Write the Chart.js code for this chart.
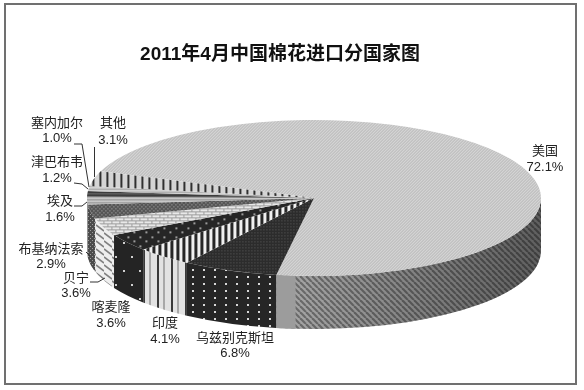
<!DOCTYPE html>
<html>
<head>
<meta charset="utf-8">
<title>2011年4月中国棉花进口分国家图</title>
<script src="https://cdn.jsdelivr.net/npm/chart.js@4"></script>
<style>
    body { margin: 0; background: #fff; }
    canvas { display: block; }
</style>
</head>
<body>
<canvas id="cottonChart" width="584" height="390"></canvas>
<script>
// Chart data
const chartTitle = '2011年4月中国棉花进口分国家图';
const countries = ['美国', '乌兹别克斯坦', '印度', '喀麦隆', '贝宁', '布基纳法索', '埃及', '津巴布韦', '塞内加尔', '其他'];
const shares = [72.1, 6.8, 4.1, 3.6, 3.6, 2.9, 1.6, 1.2, 1.0, 3.1];

// Where the flattened pie sits on the page
const pie = { x: 314, y: 198, rx: 227, ry: 78, depth: 53 };
const startRotation = -70;

// Label anchors, same order as countries: [centre x, name y, value y]
const labelAnchors = [
    [545, 151, 167], [235, 338, 353], [165, 323, 339], [111, 307, 323], [76, 278, 293],
    [51, 249, 264], [60, 201, 217], [57, 162, 178], [57, 123, 138], [113, 123, 140]
];
// Leader lines from label to slice
const leaderLines = [
    [[74, 144], [82, 144], [89, 187]],
    [[94.5, 147], [94.5, 177]],
    [[74, 183], [82, 184], [88, 189]],
    [[74, 206], [82, 206], [87, 202]],
    [[86, 252], [90, 256]],
    [[90, 282], [98, 282], [105, 278]]
];

// Make a repeating fill from a small tile
function makePattern(w, h, background, paint) {
    const tile = document.createElement('canvas');
    tile.width = w;
    tile.height = h;
    const t = tile.getContext('2d');
    t.fillStyle = background;
    t.fillRect(0, 0, w, h);
    paint(t);
    return t.createPattern(tile, 'repeat');
}

function diagonal(t, size, color, lineWidth, down) {
    t.strokeStyle = color;
    t.lineWidth = lineWidth;
    for (let i = -size; i <= size * 2; i += size) {
        t.beginPath();
        t.moveTo(i, down ? 0 : size);
        t.lineTo(i + size, down ? size : 0);
        t.stroke();
    }
}

function dots(t, color, list, size) {
    t.fillStyle = color;
    list.forEach(p => t.fillRect(p[0], p[1], size, size));
}

// Patterns of the top face
const topPatterns = [
    makePattern(3, 3, '#dcdcdc', t => diagonal(t, 3, '#a4a4a4', 1, false)),
    makePattern(3, 3, '#2c2c2c', t => dots(t, '#5c5c5c', [[0, 0]], 1)),
    makePattern(6, 6, '#262626', t => { t.fillStyle = '#f0f0f0'; t.fillRect(0, 0, 3, 6); }),
    makePattern(12, 9, '#262626', t => dots(t, '#9a9a9a', [[2, 1], [8, 5]], 2)),
    makePattern(8, 6, '#e8e8e8', t => {
        t.fillStyle = '#9c9c9c';
        t.fillRect(0, 0, 8, 1);
        t.fillRect(0, 3, 8, 1);
        t.fillRect(2, 0, 1, 3);
        t.fillRect(6, 3, 1, 3);
    }),
    makePattern(4, 4, '#565656', t => dots(t, '#b4b4b4', [[0, 0], [2, 2]], 1)),
    makePattern(4, 3, '#c8c8c8', t => { t.fillStyle = '#909090'; t.fillRect(0, 0, 4, 1); }),
    makePattern(4, 3, '#3c3c3c', t => { t.fillStyle = '#6c6c6c'; t.fillRect(0, 0, 4, 1); }),
    makePattern(4, 3, '#b0b0b0', t => { t.fillStyle = '#e4e4e4'; t.fillRect(0, 0, 4, 1); }),
    makePattern(7, 6, '#d4d4d4', t => { t.fillStyle = '#303030'; t.fillRect(1, 0, 2, 6); })
];

// Patterns of the side wall, in page pixels
const wallPatterns = [
    makePattern(6, 6, '#a4a4a4', t => diagonal(t, 6, '#6a6a6a', 2.2, true)),
    makePattern(11, 7, '#262626', t => dots(t, '#d8d8d8', [[5, 3]], 2)),
    makePattern(14, 8, '#e2e2e2', t => {
        t.fillStyle = '#3a3a3a';
        t.fillRect(3, 0, 2, 8);
        t.fillStyle = '#a8a8a8';
        t.fillRect(9, 0, 2, 8);
    }),
    makePattern(16, 28, '#242424', t => dots(t, '#d0d0d0', [[3, 4], [11, 18]], 2)),
    makePattern(8, 8, '#efefef', t => {
        t.strokeStyle = '#808080';
        t.lineWidth = 1.6;
        for (let i = -8; i <= 8; i += 8) {
            t.beginPath();
            t.moveTo(0, i + 1);
            t.lineTo(8, i + 7);
            t.stroke();
        }
    }),
    makePattern(4, 4, '#4c4c4c', t => dots(t, '#9c9c9c', [[0, 0], [2, 2]], 1)),
    '#808080', '#606060', '#808080', '#505050'
];

// Side wall, drawn under the top face from the arcs the library worked out
function drawWall(ctx, start, end, fill) {
    [-2 * Math.PI, 0, 2 * Math.PI].forEach(turn => {
        const a = Math.max(start + turn, 0);
        const b = Math.min(end + turn, Math.PI);
        if (b <= a) return;
        ctx.beginPath();
        ctx.ellipse(pie.x, pie.y, pie.rx, pie.ry, 0, a, b);
        ctx.ellipse(pie.x, pie.y + pie.depth, pie.rx, pie.ry, 0, b, a, true);
        ctx.closePath();
        ctx.fillStyle = fill;
        ctx.fill();
    });
}

const flatPie = {
    id: 'flatPie',
    beforeDraw(chart) {
        // Grey frame round the picture
        const ctx = chart.ctx;
        ctx.save();
        ctx.strokeStyle = '#707070';
        ctx.lineWidth = 2;
        ctx.strokeRect(5, 4, 571, 380);
        ctx.restore();
    },
    beforeDatasetsDraw(chart) {
        const ctx = chart.ctx;
        const arcs = chart.getDatasetMeta(0).data;

        arcs.forEach((arc, i) => drawWall(ctx, arc.startAngle, arc.endAngle, wallPatterns[i]));

        // The big slice gets darker to the right and has a plain strip at its end
        const usa = arcs[0];
        const shade = ctx.createLinearGradient(296, 0, pie.x + pie.rx, 0);
        shade.addColorStop(0, 'rgba(0,0,0,0)');
        shade.addColorStop(1, 'rgba(0,0,0,0.42)');
        drawWall(ctx, usa.startAngle, usa.endAngle, shade);
        drawWall(ctx, usa.endAngle - 4.9 * Math.PI / 180, usa.endAngle, '#9c9c9c');

        // Squash the library's round pie into an ellipse, keep patterns at page size
        const sx = pie.rx / usa.outerRadius;
        const sy = pie.ry / usa.outerRadius;
        topPatterns.forEach(p => p.setTransform(new DOMMatrix().scale(1 / sx, 1 / sy)));
        ctx.save();
        ctx.translate(pie.x, pie.y);
        ctx.scale(sx, sy);
        ctx.translate(-usa.x, -usa.y);
    },
    afterDatasetsDraw(chart) {
        chart.ctx.restore();
    },
    afterDraw(chart) {
        const ctx = chart.ctx;
        ctx.save();
        ctx.strokeStyle = '#333';
        ctx.lineWidth = 1;
        leaderLines.forEach(line => {
            ctx.beginPath();
            line.forEach((p, i) => (i ? ctx.lineTo(p[0], p[1]) : ctx.moveTo(p[0], p[1])));
            ctx.stroke();
        });

        ctx.fillStyle = '#222';
        ctx.font = '13px "Liberation Sans", "Noto Sans CJK SC", sans-serif';
        ctx.textAlign = 'center';
        ctx.textBaseline = 'middle';
        countries.forEach((name, i) => {
            const pos = labelAnchors[i];
            ctx.fillText(name, pos[0], pos[1]);
            ctx.fillText(shares[i].toFixed(1) + '%', pos[0], pos[2]);
        });
        ctx.restore();
    }
};

new Chart(document.getElementById('cottonChart').getContext('2d'), {
    type: 'pie',
    data: {
        labels: countries,
        datasets: [{
            data: shares,
            backgroundColor: topPatterns,
            borderWidth: 0,
            clip: false
        }]
    },
    options: {
        responsive: false,
        animation: false,
        events: [],
        rotation: startRotation,
        layout: { padding: { right: 24 } },
        plugins: {
            legend: { display: false },
            tooltip: { enabled: false },
            title: {
                display: true,
                text: chartTitle,
                color: '#111',
                font: { family: '"Liberation Sans", "Noto Sans CJK SC", sans-serif', size: 19, weight: 'bold' },
                padding: { top: 43, bottom: 10 }
            }
        }
    },
    plugins: [flatPie]
});
</script>
</body>
</html>
